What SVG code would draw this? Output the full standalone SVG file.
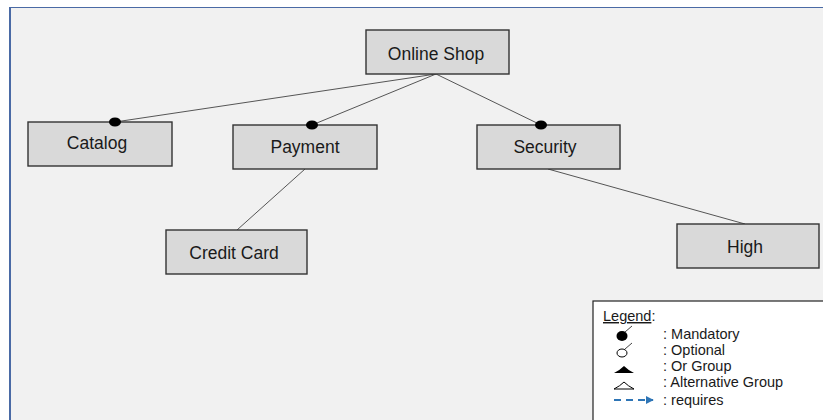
<svg xmlns="http://www.w3.org/2000/svg" width="823" height="420" viewBox="0 0 823 420">
<defs>
<style>
.node rect{fill:#d9d9d9;stroke:#333;stroke-width:1.4}
.node text{font-family:"Liberation Sans",Arial,sans-serif;font-size:17.5px;fill:#1a1a1a;text-anchor:middle}
.conn line{stroke:#555;stroke-width:1}
.lg{font-family:"Liberation Sans",Arial,sans-serif;font-size:14.5px;fill:#1a1a1a}
</style>
<marker id="arr" viewBox="0 0 10 10" refX="9" refY="5" markerWidth="8" markerHeight="8" orient="auto" markerUnits="userSpaceOnUse"><path d="M0,0L10,5L0,10z" fill="#2e75b6"/></marker>
</defs>
<rect x="0" y="0" width="823" height="420" fill="#ffffff"/>
<rect x="10" y="7" width="813" height="413" fill="#f1f1f1"/>
<line x1="10" y1="7.5" x2="823" y2="7.5" stroke="#4a6aa5" stroke-width="1.2"/>
<line x1="10" y1="7" x2="10" y2="420" stroke="#4a6aa5" stroke-width="2"/>
<g class="conn" id="connectors">
<line x1="436" y1="74" x2="115" y2="122"/>
<line x1="436" y1="74" x2="312" y2="125"/>
<line x1="436" y1="74" x2="541" y2="125"/>
<line x1="305" y1="169" x2="237" y2="230"/>
<line x1="548" y1="169" x2="745" y2="224"/>
</g>
<g class="node" id="online-shop"><rect x="366" y="30" width="143" height="44"/><text x="436" y="60">Online Shop</text></g>
<g class="node" id="catalog"><rect x="28" y="122" width="144" height="44"/><text x="97" y="149">Catalog</text></g>
<g class="node" id="payment"><rect x="233" y="125" width="144" height="44"/><text x="305" y="153">Payment</text></g>
<g class="node" id="security"><rect x="477" y="125" width="143" height="44"/><text x="545" y="153">Security</text></g>
<g class="node" id="credit-card"><rect x="166" y="230" width="141" height="44"/><text x="234" y="259">Credit Card</text></g>
<g class="node" id="high"><rect x="677" y="224" width="142" height="44"/><text x="745" y="253">High</text></g>
<g id="markers">
<ellipse cx="115" cy="122" rx="6" ry="4.5" fill="#000"/>
<ellipse cx="312" cy="125" rx="6" ry="4.5" fill="#000"/>
<ellipse cx="541" cy="125" rx="6" ry="4.5" fill="#000"/>
</g>
<g id="legend">
<rect x="593" y="301" width="240" height="130" fill="#fff" stroke="#222" stroke-width="1.2"/>
<text class="lg" x="603" y="321"><tspan text-decoration="underline">Legend</tspan>:</text>
<ellipse cx="622" cy="336" rx="5.5" ry="5" fill="#000"/>
<line x1="625" y1="332" x2="632" y2="326" stroke="#444" stroke-width="1"/>
<text class="lg" x="663" y="339">: Mandatory</text>
<ellipse cx="622" cy="353" rx="5" ry="4" fill="none" stroke="#000" stroke-width="1"/>
<line x1="625" y1="349" x2="632" y2="343" stroke="#444" stroke-width="1"/>
<text class="lg" x="663" y="355">: Optional</text>
<path d="M614,373 Q620,370 624,366 Q628,370 634,373 Z" fill="#000"/>
<text class="lg" x="663" y="371">: Or Group</text>
<path d="M614,389 Q620,386 624,382 Q628,386 634,389 Z" fill="none" stroke="#000" stroke-width="1"/>
<text class="lg" x="663" y="387">: Alternative Group</text>
<line x1="614" y1="400" x2="653" y2="400" stroke="#2e75b6" stroke-width="2" stroke-dasharray="7,5" marker-end="url(#arr)"/>
<text class="lg" x="663" y="405">: requires</text>
</g>
</svg>
